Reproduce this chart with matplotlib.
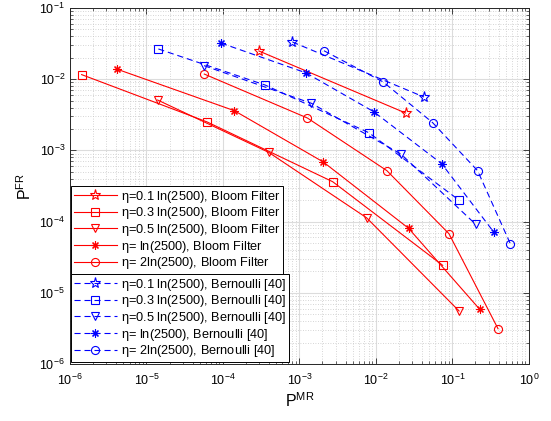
import numpy as np
import matplotlib
matplotlib.use("Agg")
import matplotlib.pyplot as plt
from matplotlib.ticker import LogLocator, FuncFormatter, NullFormatter

# Bloom filter curves, one per eta (P^MR, P^FR)
bf_01_mr = [2.95e-4, 2.44e-2]
bf_01_fr = [2.49e-2, 3.35e-3]
bf_03_mr = [1.42e-6, 6.2e-5, 2.72e-3, 7.45e-2]
bf_03_fr = [1.16e-2, 2.51e-3, 3.63e-4, 2.43e-5]
bf_05_mr = [1.40e-5, 3.95e-4, 7.55e-3, 0.122]
bf_05_fr = [5.1e-3, 9.4e-4, 1.13e-4, 5.55e-6]
bf_1_mr = [4.07e-6, 1.41e-4, 2.05e-3, 2.67e-2, 0.227]
bf_1_fr = [1.39e-2, 3.61e-3, 6.87e-4, 8.05e-5, 5.86e-6]
bf_2_mr = [5.7e-5, 1.27e-3, 1.39e-2, 9.0e-2, 0.394]
bf_2_fr = [1.18e-2, 2.85e-3, 5.19e-4, 6.76e-5, 3.13e-6]

# Bernoulli sampling curves [40]
be_01_mr = [8.09e-4, 4.24e-2]
be_01_fr = [3.33e-2, 5.62e-3]
be_03_mr = [1.43e-5, 3.54e-4, 8.09e-3, 0.1227]
be_03_fr = [2.66e-2, 8.3e-3, 1.77e-3, 1.99e-4]
be_05_mr = [5.65e-5, 1.43e-3, 2.12e-2, 0.201]
be_05_fr = [1.55e-2, 4.59e-3, 8.89e-4, 9.16e-5]
be_1_mr = [9.42e-5, 1.21e-3, 9.33e-3, 7.23e-2, 0.348]
be_1_fr = [3.22e-2, 1.23e-2, 3.5e-3, 6.5e-4, 7.08e-5]
be_2_mr = [2.09e-3, 1.245e-2, 5.51e-2, 0.213, 0.57]
be_2_fr = [2.51e-2, 9.14e-3, 2.45e-3, 5.19e-4, 4.9e-5]

eta_labels = [r"$\eta$=0.1 ln(2500)", r"$\eta$=0.3 ln(2500)", r"$\eta$=0.5 ln(2500)",
	r"$\eta$= ln(2500)", r"$\eta$= 2ln(2500)"]

ASTERISK = (8, 2, 0)
markers = ["*", "s", "v", ASTERISK, "o"]


def pow10(v, pos):
	return r"10$^{%d}$" % int(round(np.log10(v)))


def main():
	plt.rcParams['font.family'] = ['Liberation Sans', 'DejaVu Sans']
	plt.rcParams['mathtext.fontset'] = 'custom'
	plt.rcParams['mathtext.rm'] = 'Liberation Sans'
	plt.rcParams['mathtext.it'] = 'Liberation Serif:italic'
	plt.rcParams['mathtext.default'] = 'regular'

	fig = plt.figure(figsize=(5.51, 4.21), dpi=100)
	ax = fig.add_axes([0.127, 0.1354, 0.833, 0.8456])

	bf = [(bf_01_mr, bf_01_fr), (bf_03_mr, bf_03_fr), (bf_05_mr, bf_05_fr),
		(bf_1_mr, bf_1_fr), (bf_2_mr, bf_2_fr)]
	be = [(be_01_mr, be_01_fr), (be_03_mr, be_03_fr), (be_05_mr, be_05_fr),
		(be_1_mr, be_1_fr), (be_2_mr, be_2_fr)]

	red_lines = []
	for (x, y), m, lab in zip(bf, markers, eta_labels):
		ms = 8 if m == "*" else 5.8
		l, = ax.plot(x, y, color=(1, 0, 0), lw=0.8, marker=m, ms=ms, mfc='none',
			mew=0.8, label=lab + ", Bloom Filter")
		red_lines.append(l)

	blue_lines = []
	for (x, y), m, lab in zip(be, markers, eta_labels):
		ms = 8 if m == "*" else 5.8
		l, = ax.plot(x, y, color=(0, 0, 1), lw=0.8, marker=m, ms=ms, mfc='none',
			mew=0.8, dashes=(5.5, 3.5), label=lab + ", Bernoulli [40]")
		blue_lines.append(l)

	ax.set_xscale('log')
	ax.set_yscale('log')
	ax.set_xlim(1e-6, 1)
	ax.set_ylim(1e-6, 1e-1)

	for axis in (ax.xaxis, ax.yaxis):
		axis.set_major_locator(LogLocator(base=10, numticks=20))
		axis.set_minor_locator(LogLocator(base=10, subs=np.arange(2, 10), numticks=20))
		axis.set_major_formatter(FuncFormatter(pow10))
		axis.set_minor_formatter(NullFormatter())

	ax.grid(which='major', color='#dcdcdc', lw=0.8, ls='-')
	ax.grid(which='minor', color='#c8c8c8', lw=0.6, ls=(0, (1, 2)))
	ax.set_axisbelow(True)
	ax.tick_params(which='both', direction='in', top=True, right=True,
		labelsize=9, color='#262626')
	ax.tick_params(which='major', length=4, width=0.6)
	ax.tick_params(which='minor', length=2, width=0.5)
	ax.tick_params(axis='x', pad=6)
	for s in ax.spines.values():
		s.set_linewidth(0.7)
		s.set_color('#262626')

	ax.set_xlabel("P$^{MR}$", fontsize=11.5, labelpad=3)
	ax.set_ylabel("P$^{FR}$", fontsize=11.5, labelpad=4)

	leg_kw = dict(fontsize=9.2, fancybox=False, framealpha=1, edgecolor='black',
		handlelength=3.4, handletextpad=0.3, labelspacing=0.05, borderpad=0.2,
		borderaxespad=0)
	leg1 = fig.legend(handles=red_lines, loc='upper left',
		bbox_to_anchor=(0.1289, 0.558), **leg_kw)
	leg1.get_frame().set_linewidth(0.7)
	leg2 = fig.legend(handles=blue_lines, loc='upper left',
		bbox_to_anchor=(0.1289, 0.349), **leg_kw)
	leg2.get_frame().set_linewidth(0.7)

	fig.savefig("out.png", dpi=100)


if __name__ == "__main__":
	main()
